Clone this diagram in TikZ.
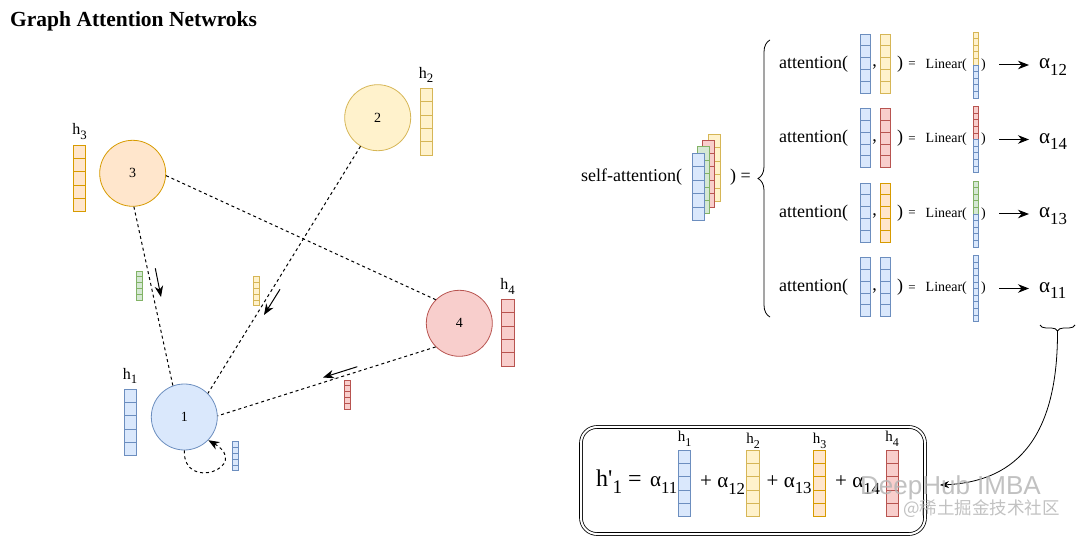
\documentclass[tikz,border=0pt]{standalone}
\usepackage{fontspec}
\usepackage{graphicx}
\setmainfont{Liberation Serif}
\newfontfamily\cjkfont{Noto Sans CJK SC}
\newfontfamily\wmfont{Liberation Sans}
\usetikzlibrary{arrows.meta,decorations.pathreplacing}
\definecolor{bluef}{HTML}{DAE8FC}\definecolor{blued}{HTML}{6C8EBF}
\definecolor{yellowf}{HTML}{FFF2CC}\definecolor{yellowd}{HTML}{D6B656}
\definecolor{orangef}{HTML}{FFE6CC}\definecolor{oranged}{HTML}{D79B00}
\definecolor{redf}{HTML}{F8CECC}\definecolor{redd}{HTML}{B85450}
\definecolor{greenf}{HTML}{D5E8D4}\definecolor{greend}{HTML}{82B366}
\newcommand\fs[1]{\fontsize{#1}{#1}\selectfont}
\newcommand\sbs[1]{\raisebox{-0.3em}{\scalebox{0.8}{#1}}}
% x, ytop, width, height, cells, style
\newcommand\vbar[6]{\foreach \k in {1,...,#5}{\draw[#6] (#1,{#2+(\k-1)*(#4)/(#5)}) rectangle ++(#3,{(#4)/(#5)});}}
\tikzset{
  vblue/.style={fill=bluef,draw=blued,line width=0.6pt},
  vyellow/.style={fill=yellowf,draw=yellowd,line width=0.6pt},
  vorange/.style={fill=orangef,draw=oranged,line width=0.6pt},
  vred/.style={fill=redf,draw=redd,line width=0.6pt},
  vgreen/.style={fill=greenf,draw=greend,line width=0.6pt},
  gnode/.style={circle,minimum size=66pt,inner sep=0pt,line width=0.8pt,font=\fs{14}},
  txt/.style={inner sep=0pt},
  dedge/.style={dashed,dash pattern=on 3pt off 3pt,line width=1pt},
  tipA/.tip={Stealth[length=11pt,width=8.5pt,inset=3.5pt]},
  sarrow/.style={line width=1pt,-tipA},
  watermark/.style={inner sep=0pt,text=gray!60,opacity=0.8}
}
\begin{document}
\begin{tikzpicture}[x=1pt,y=-1pt]
\useasboundingbox (0,0) rectangle (1080,537);
\node[txt,anchor=west,font=\bfseries\fs{21.5}] (title) at (10,21) {Graph Attention Netwroks};

% graph nodes
\node[gnode,fill=bluef,draw=blued] (n1) at (184.3,417) {1};
\node[gnode,fill=yellowf,draw=yellowd] (n2) at (377.7,117.7) {2};
\node[gnode,fill=orangef,draw=oranged] (n3) at (132.7,173.3) {3};
\node[gnode,fill=redf,draw=redd] (n4) at (459.3,323.3) {4};

% feature vectors
\vbar{73.3}{145}{12.4}{66.7}{5}{vorange}
\vbar{420}{88.3}{12.4}{66.7}{5}{vyellow}
\vbar{501.7}{299.3}{12.4}{66.7}{5}{vred}
\vbar{124}{389}{12.4}{66.7}{5}{vblue}
\node[txt,font=\fs{16}] (lh3) at (79.5,131.5) {h\sbs{3}};
\node[txt,font=\fs{16}] (lh2) at (426,75) {h\sbs{2}};
\node[txt,font=\fs{16}] (lh4) at (507.5,286.5) {h\sbs{4}};
\node[txt,font=\fs{16}] (lh1) at (130,376) {h\sbs{1}};

% small messages
\vbar{136.7}{271}{6}{29}{5}{vgreen}
\vbar{253.3}{276.7}{6}{29}{5}{vyellow}
\vbar{344.3}{380}{6}{29}{5}{vred}
\vbar{232.3}{441.7}{6}{29}{5}{vblue}

% edges
\draw[dedge] (n3.-88) -- (n1.110);
\draw[dedge] (n2.-121) -- (n1.45);
\draw[dedge] (n3.-4) -- (n4.135);
\draw[dedge] (n4.225) -- (n1.2);
\draw[dedge,-tipA] (n1.south) .. controls (183,493) and (252,466) .. (n1.-44);

\coordinate (m1s) at (155.3,268.3); \coordinate (m1e) at (161,297);
\coordinate (m2s) at (280,289.3); \coordinate (m2e) at (264,315);
\coordinate (m3s) at (357.3,366.7); \coordinate (m3e) at (323,377.5);
\draw[sarrow] (m1s) -- (m1e);
\draw[sarrow] (m2s) -- (m2e);
\draw[sarrow] (m3s) -- (m3e);

% self-attention
\node[txt,anchor=west,font=\fs{18}] (sa) at (581,177.5) {self-attention(};
\vbar{708.3}{134.3}{11.7}{67}{5}{vyellow}
\vbar{702.3}{140}{11.7}{67}{5}{vred}
\vbar{697.3}{146.7}{11.7}{67}{5}{vgreen}
\vbar{692.3}{153.3}{11.7}{67}{5}{vblue}
\node[txt,anchor=west,font=\fs{18}] (saeq) at (730,177.5) {) =};
\draw[line width=0.8pt,decorate,decoration={brace,amplitude=12pt}] (770,317) -- (770,40);

\foreach \r/\y/\ca/\cb/\s in {1/34/vyellow/vyellow/12, 2/108.5/vred/vred/14, 3/183/vorange/vgreen/13, 4/257.5/vblue/vblue/11}{
  \node[txt,anchor=west,font=\fs{18}] (att\r) at (779,\y+30) {attention(};
  \vbar{860}{\y}{10}{59}{5}{vblue}
  \node[txt,font=\fs{18}] (cm\r) at (874.5,\y+33) {,};
  \vbar{880}{\y}{10}{59}{5}{\ca}
  \node[txt,font=\fs{18}] (cp\r) at (900,\y+30) {)};
  \node[txt,font=\fs{13}] (eq\r) at (912,\y+31) {=};
  \node[txt,anchor=west,font=\fs{14}] (lin\r) at (925.5,\y+31) {Linear(};
  \vbar{973}{\y-2}{5.5}{33}{5}{\cb}
  \vbar{973}{\y+31}{5.5}{33}{5}{vblue}
  \node[txt,font=\fs{14}] (lp\r) at (983.5,\y+31) {)};
  \coordinate (as\r) at (999,\y+31);
  \coordinate (ae\r) at (1029,\y+31);
  \draw[sarrow] (as\r) -- (ae\r);
  \node[txt,anchor=west,font=\fs{21}] (al\r) at (1039,\y+33) {α\sbs{\s}};
}

% small brace and curve to result
\draw[line width=0.8pt,decorate,decoration={brace,amplitude=6pt}] (1075,325) -- (1040,325);
\coordinate (bt) at (1057.5,331);
\coordinate (ce) at (940,485);
\draw[line width=0.8pt,-{Stealth[length=9pt,width=7pt,inset=3pt]}] (bt) .. controls (1058,445) and (1010,482) .. (ce);

% result box
\node[draw,double,double distance=2pt,line width=0.8pt,rounded corners=16pt,minimum width=344pt,minimum height=107pt] (box) at (753,480.5) {};
\node[txt,anchor=west,font=\fs{24}] (hp) at (596,482) {h\textquotesingle\sbs{1} =};
\node[txt,anchor=west,font=\fs{21}] (f1) at (650,485) {α\sbs{11}};
\vbar{678.3}{450}{12.4}{66.7}{5}{vblue}
\node[txt,anchor=west,font=\fs{21}] (f2) at (700,485) {+ α\sbs{12}};
\vbar{746.7}{450}{12.4}{66.7}{5}{vyellow}
\node[txt,anchor=west,font=\fs{21}] (f3) at (766.5,485) {+ α\sbs{13}};
\vbar{813.3}{450}{12.4}{66.7}{5}{vorange}
\node[txt,anchor=west,font=\fs{21}] (f4) at (835,485) {+ α\sbs{14}};
\vbar{886}{450}{12.4}{66.7}{5}{vred}
\node[txt,font=\fs{15}] (bh1) at (684.5,439) {h\sbs{1}};
\node[txt,font=\fs{15}] (bh2) at (753,441) {h\sbs{2}};
\node[txt,font=\fs{15}] (bh3) at (819.5,441) {h\sbs{3}};
\node[txt,font=\fs{15}] (bh4) at (892,439) {h\sbs{4}};

% watermark
\node[watermark,anchor=west,font=\wmfont\fs{26}] (wm1) at (860,488) {DeepHub IMBA};
\node[watermark,anchor=west,font=\cjkfont\fs{17.5}] (wm2) at (903,509) {@稀土掘金技术社区};
\end{tikzpicture}
\end{document}
